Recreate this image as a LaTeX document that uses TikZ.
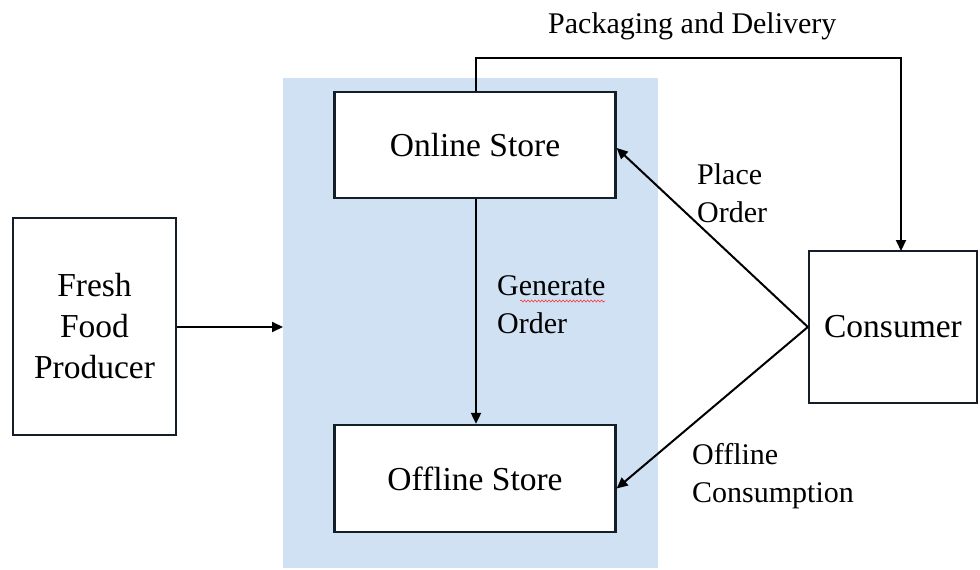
\documentclass[tikz,border=0pt]{standalone}
\usepackage{fontspec}
\setmainfont{LiberationSerif-Regular.ttf}
\usetikzlibrary{arrows.meta,decorations.pathmorphing}
\definecolor{bgblue}{RGB}{208,225,243}
\definecolor{boxline}{RGB}{20,30,40}
\tikzset{
  box/.style={draw=boxline, line width=2.3pt, fill=white, inner sep=0pt, align=center,
              font=\fontsize{33.5}{41}\selectfont},
  arr/.style={line width=2pt, -{Triangle[length=11pt,width=10pt]}},
  lbl/.style={inner sep=0pt, align=left, anchor=base west, font=\fontsize{30}{37.5}\selectfont}
}
\begin{document}
\begin{tikzpicture}[x=1pt,y=-1pt]
\useasboundingbox (0,0) rectangle (980,570);
\fill[bgblue] (283,78) rectangle (658,568);
\node[box, minimum width=281pt, minimum height=106pt] (online) at (475,145) {Online Store};
\node[box, minimum width=281pt, minimum height=107pt] (offline) at (475,478.5) {Offline Store};
\node[box, minimum width=163pt, minimum height=217pt] (producer) at (94.5,326.5) {Fresh\\Food\\Producer};
\node[box, minimum width=168pt, minimum height=152pt] (consumer) at (893,327) {Consumer};
\coordinate (blue) at (283,327);
\coordinate (up) at (476,58);
\coordinate (cin) at (901,251);
\draw[arr] (producer.east |- blue) -- (blue);
\draw[arr] (up |- online.south) -- (up |- offline.north);
\draw[arr] (up |- online.north) -- (up) -- (up -| cin) -- (cin);
\draw[arr] (consumer.west) -- ([yshift=-3pt]online.east);
\draw[arr] (consumer.west) -- ([yshift=-10pt]offline.east);
\node[lbl] (pd) at (548,33) {Packaging and Delivery};
\node[lbl] (po) at (697,222) {Place\\Order};
\node[lbl] (go) at (497,333) {Generate\\Order};
\node[lbl] (oc) at (692,502) {Offline\\Consumption};
\draw[red!80!white, line width=0.6pt, decorate, decoration={snake, amplitude=1pt, segment length=3.5pt}] (520,301) -- (605,301);
\end{tikzpicture}
\end{document}
